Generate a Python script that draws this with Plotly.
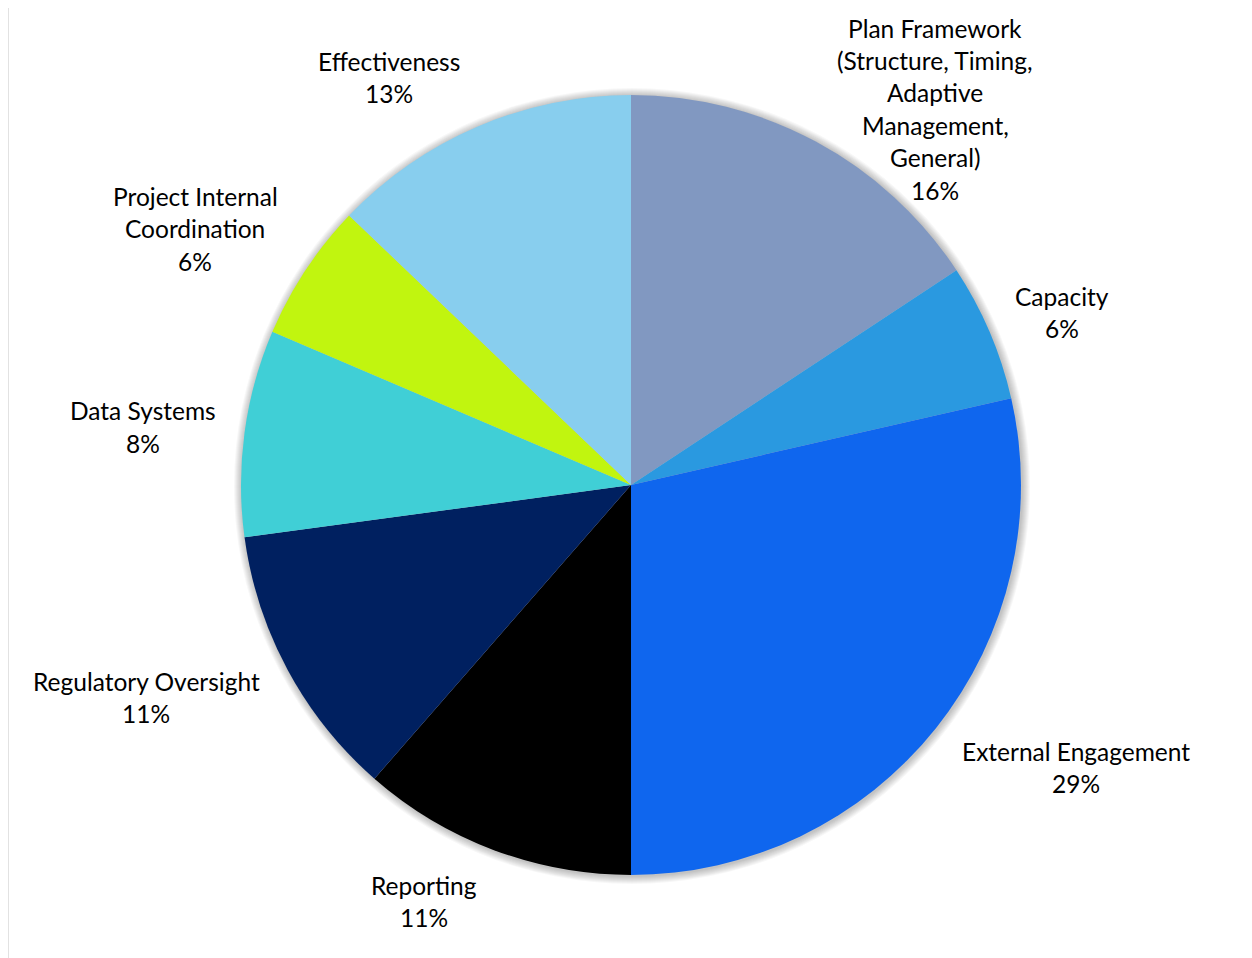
import plotly.graph_objects as go

# ---- data ----
categories = [
    "Plan Framework (Structure, Timing, Adaptive Management, General)",
    "Capacity",
    "External Engagement",
    "Reporting",
    "Regulatory Oversight",
    "Data Systems",
    "Project Internal Coordination",
    "Effectiveness",
]
counts = [11, 4, 20, 8, 8, 6, 4, 9]
pct_labels = ["16%", "6%", "29%", "11%", "11%", "8%", "6%", "13%"]
label_lines = [
    ["Plan Framework", "(Structure, Timing,", "Adaptive", "Management,", "General)"],
    ["Capacity"],
    ["External Engagement"],
    ["Reporting"],
    ["Regulatory Oversight"],
    ["Data Systems"],
    ["Project Internal", "Coordination"],
    ["Effectiveness"],
]
colors = ["#8198C1", "#2A99E0", "#0F66EE", "#000000", "#002060", "#40CFD6", "#C1F50F", "#88CEEE"]

# ---- layout (pixels, page coordinates; page has an 8px body offset) ----
W, H = 1252, 958
OFF = 8
cx, cy, R = 631 - OFF, 485 - OFF, 390
# label first-line centre (x, y) in page pixels
label_pos = [(935, 28), (1062, 296), (1076, 751), (424, 885),
             (146, 681), (143, 411), (195, 196), (389, 61)]
line_h = 32.5
font = dict(family="Lato, Open Sans, sans-serif", size=24.5, color="#000000")


def px(x):
    return x / W


def py(y):
    return 1 - y / H


fig = go.Figure()
fig.add_trace(go.Pie(
    labels=categories, values=counts, sort=False, direction="clockwise",
    rotation=0, marker=dict(colors=colors, line=dict(width=0)),
    text=pct_labels, textinfo="none", hovertemplate="%{label}: %{text}<extra></extra>",
    showlegend=False,
    domain=dict(x=[px(cx - R), px(cx + R)], y=[py(cy + R), py(cy - R)]),
))

annotations = []
for lines, pct, (lx, ly) in zip(label_lines, pct_labels, label_pos):
    for i, t in enumerate(lines + [pct]):
        annotations.append(dict(
            x=px(lx - OFF), y=py(ly - OFF + i * line_h), xref="paper", yref="paper",
            text=t, showarrow=False, xanchor="center", yanchor="middle", font=font,
        ))

shapes = [dict(type="rect", xref="paper", yref="paper",
               x0=px(7.5 - OFF) + 0.0004, x1=1.05, y0=-0.05, y1=py(6.5 - OFF) - 0.0005,
               line=dict(color="#D9D9D9", width=1.5), fillcolor="rgba(0,0,0,0)")]
# soft shadow around the pie
for k in range(1, 9):
    r = R + k
    shapes.append(dict(type="circle", xref="paper", yref="paper", layer="below",
                       x0=px(cx + 1 - r), x1=px(cx + 1 + r), y0=py(cy + 1 + r), y1=py(cy + 1 - r),
                       line=dict(width=0), fillcolor="rgba(0,0,0,0.03)"))

fig.update_layout(
    width=W, height=H, margin=dict(l=0, r=0, t=0, b=0),
    paper_bgcolor="white", plot_bgcolor="white",
    annotations=annotations, shapes=shapes,
)
fig.write_html("out.html")
